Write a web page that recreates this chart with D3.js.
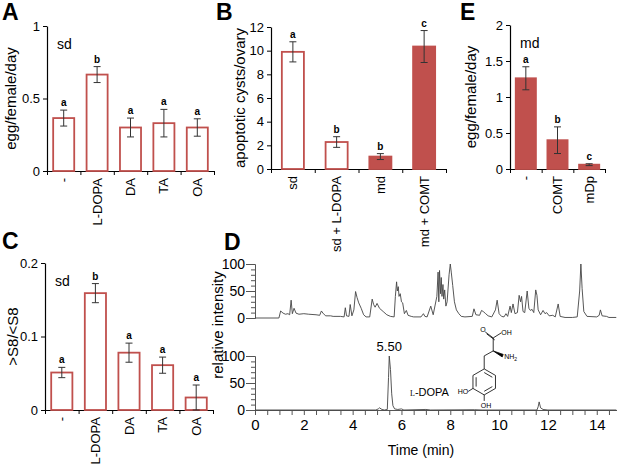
<!DOCTYPE html>
<html>
<head>
<meta charset="utf-8">
<script src="https://cdn.jsdelivr.net/npm/d3@7"></script>
<style>
  body { margin: 0; background: #fff; }
  svg { font-family: "Liberation Sans", Arial, sans-serif; }
</style>
</head>
<body>
<svg id="fig" width="617" height="465"></svg>
<script>
// A: egg laying of sd flies fed with amines
const catsA = ["-", "L-DOPA", "DA", "TA", "OA"];
const meanA = [0.365, 0.665, 0.30, 0.33, 0.30];
const errA = [0.055, 0.055, 0.065, 0.095, 0.06];
const sigA = ["a", "b", "a", "a", "a"];

// B: apoptotic cysts per ovary
const catsB = ["sd", "sd + L-DOPA", "md", "md + COMT"];
const dietB = ["sd", "sd", "md", "md"];
const meanB = [9.9, 2.28, 1.05, 10.35];
const errB = [0.85, 0.45, 0.25, 1.35];
const sigB = ["a", "b", "b", "c"];

// C: >S8/<S8 ratio, sd flies
const catsC = ["-", "L-DOPA", "DA", "TA", "OA"];
const meanC = [0.051, 0.159, 0.078, 0.061, 0.017];
const errC = [0.007, 0.013, 0.013, 0.011, 0.017];
const sigC = ["a", "b", "a", "a", "a"];

// E: egg laying of md flies
const catsE = ["-", "COMT", "mDp"];
const meanE = [1.26, 0.40, 0.06];
const errE = [0.16, 0.185, 0.013];
const sigE = ["a", "b", "c"];

// D: chromatograms, [time (min), relative intensity]
const traceTop = [
  [0, 0], [0.98, 0], [1.05, 13], [1.15, 9], [1.25, 7], [1.35, 8], [1.42, 6], [1.48, 33],
  [1.53, 8], [1.6, 18], [1.68, 9], [1.8, 7], [2.0, 8], [2.2, 7], [2.5, 6], [2.65, 5],
  [2.72, 13], [2.8, 8], [2.9, 4], [3.1, 4], [3.2, 3], [3.5, 3], [3.65, 2], [3.7, 19],
  [3.75, 4], [3.85, 3], [3.9, 25], [3.97, 4], [4.05, 15], [4.12, 49], [4.18, 38], [4.25, 28],
  [4.35, 18], [4.45, 6], [4.55, 2], [4.7, 2], [4.8, 35], [4.86, 25], [4.92, 20], [5.0, 27],
  [5.1, 18], [5.25, 12], [5.4, 6], [5.55, 3], [5.7, 2], [5.75, 40], [5.8, 67], [5.83, 50],
  [5.87, 58], [5.9, 40], [5.95, 45], [6.0, 30], [6.05, 28], [6.12, 8], [6.2, 14], [6.27, 5],
  [6.4, 3], [6.5, 2], [6.8, 2], [6.9, 8], [6.96, 3], [7.05, 2], [7.2, 22], [7.3, 6],
  [7.45, 40], [7.5, 85], [7.53, 30], [7.56, 88], [7.6, 45], [7.63, 75], [7.66, 40], [7.7, 62],
  [7.73, 35], [7.77, 52], [7.82, 22], [7.87, 30], [7.95, 80], [8.0, 100], [8.04, 85], [8.1, 60],
  [8.17, 30], [8.25, 15], [8.35, 8], [8.45, 3], [8.6, 2], [8.9, 3], [8.97, 17], [9.05, 6],
  [9.2, 5], [9.28, 14], [9.35, 12], [9.45, 8], [9.55, 4], [9.7, 2], [9.85, 15], [9.92, 33],
  [10.0, 8], [10.1, 3], [10.2, 2], [10.28, 8], [10.35, 3], [10.45, 22], [10.5, 10], [10.57, 26],
  [10.65, 8], [10.75, 10], [10.82, 42], [10.88, 30], [10.92, 40], [10.98, 12], [11.05, 10], [11.15, 50],
  [11.22, 18], [11.28, 14], [11.35, 16], [11.42, 10], [11.5, 52], [11.55, 42], [11.6, 15], [11.7, 6],
  [11.8, 14], [11.88, 8], [11.95, 10], [12.05, 4], [12.2, 5], [12.3, 2], [12.42, 26], [12.5, 3],
  [12.7, 1], [13.0, 1], [13.2, 2], [13.3, 50], [13.35, 100], [13.4, 55], [13.47, 12], [13.6, 3],
  [14.0, 2], [14.1, 5], [14.15, 15], [14.22, 4], [14.4, 3], [14.5, 1], [14.8, 1]
];
const traceDopa = [
  [0, 0], [4.95, 0], [5.05, 2], [5.1, 4], [5.2, 1], [5.3, 0], [5.42, 1], [5.47, 60],
  [5.5, 100], [5.55, 75], [5.6, 30], [5.65, 8], [5.72, 2], [5.85, 1], [6.0, 2], [6.1, 0],
  [7.0, 1], [7.2, 0], [9.0, 0.5], [9.3, 0], [11.55, 0], [11.6, 6], [11.64, 15], [11.7, 4],
  [11.8, 1], [12.0, 0], [14.8, 0]
];
const peakTime = 5.50;

const red = "#c0504d";
const svg = d3.select("#fig");

function styleAxis(g, size, color) {
  g.attr("font-family", null).attr("font-size", null);
  g.selectAll("text").attr("font-size", size).attr("fill", "#000");
  g.selectAll("path, line").attr("stroke", color);
}

function barPanel(p) {
  const g = svg.append("g");
  const x = d3.scaleBand().domain(p.cats).range(p.xr);
  const xe = d3.scaleLinear().domain([0, p.cats.length]).range(p.xr);
  const y = d3.scaleLinear().domain(p.yd).range(p.yr);
  const bw = x.bandwidth() * p.frac;

  g.append("g").attr("transform", `translate(${p.xr[0]},0)`)
    .call(d3.axisLeft(y).tickValues(p.yt).tickFormat(p.fmt).tickSize(4).tickSizeOuter(0).tickPadding(3))
    .call(a => styleAxis(a, 13, "#000"))
    .call(a => a.select(".domain").attr("stroke-width", 1.2));

  g.append("g").attr("transform", `translate(0,${p.yr[0]})`)
    .call(d3.axisBottom(xe).tickValues(d3.range(p.cats.length + 1)).tickFormat("").tickSize(4).tickSizeOuter(0))
    .call(a => styleAxis(a, 13, "#000"))
    .call(a => a.select(".domain").attr("stroke-width", 1.2));

  g.selectAll("rect.bar").data(p.mean).join("rect")
    .attr("class", "bar")
    .attr("x", (d, i) => x(p.cats[i]) + (x.bandwidth() - bw) / 2 + 1)
    .attr("y", d => y(d))
    .attr("width", bw - 2)
    .attr("height", d => y(0) - y(d))
    .attr("fill", (d, i) => p.filled[i] ? red : "#fff")
    .attr("stroke", red)
    .attr("stroke-width", 1.8);

  const eb = g.selectAll("g.err").data(p.mean).join("g").attr("class", "err")
    .attr("stroke", "#333").attr("stroke-width", 1);
  eb.append("line")
    .attr("x1", (d, i) => x(p.cats[i]) + x.bandwidth() / 2)
    .attr("x2", (d, i) => x(p.cats[i]) + x.bandwidth() / 2)
    .attr("y1", (d, i) => y(d + p.err[i]))
    .attr("y2", (d, i) => y(Math.max(0, d - p.err[i])));
  [1, -1].forEach(s => {
    eb.append("line")
      .attr("x1", (d, i) => x(p.cats[i]) + x.bandwidth() / 2 - 3.5)
      .attr("x2", (d, i) => x(p.cats[i]) + x.bandwidth() / 2 + 3.5)
      .attr("y1", (d, i) => y(Math.max(0, d + s * p.err[i])))
      .attr("y2", (d, i) => y(Math.max(0, d + s * p.err[i])));
  });

  g.selectAll("text.sig").data(p.sig).join("text")
    .attr("class", "sig")
    .attr("x", (d, i) => x(p.cats[i]) + x.bandwidth() / 2)
    .attr("y", (d, i) => y(p.mean[i] + p.err[i]) - 4)
    .attr("text-anchor", "middle")
    .attr("font-size", 10).attr("font-weight", "bold")
    .text(d => d);

  g.selectAll("text.cat").data(p.cats).join("text")
    .attr("class", "cat")
    .attr("transform", d => `translate(${x(d) + x.bandwidth() / 2},${p.yr[0] + 7}) rotate(-90)`)
    .attr("dy", "0.35em")
    .attr("text-anchor", "end")
    .attr("font-size", 13)
    .text(d => d);

  g.append("text")
    .attr("transform", `translate(${p.titleX},${(p.yr[0] + p.yr[1]) / 2}) rotate(-90)`)
    .attr("text-anchor", "middle")
    .attr("font-size", 15)
    .text(p.title);

  if (p.note) {
    g.append("text").attr("x", p.xr[0] + 10).attr("y", y(p.noteY))
      .attr("font-size", 14).text(p.note);
  }
}

barPanel({
  cats: catsA, mean: meanA, err: errA, sig: sigA, filled: catsA.map(() => false),
  xr: [47, 214], yr: [171, 26], yd: [0, 1], yt: [0, 0.5, 1], fmt: d3.format("~g"),
  frac: 0.69, title: "egg/female/day", titleX: 16, note: "sd", noteY: 0.84
});
barPanel({
  cats: catsB, mean: meanB, err: errB, sig: sigB, filled: dietB.map(d => d === "md"),
  xr: [271, 446], yr: [169, 27], yd: [0, 12], yt: d3.range(0, 13, 2), fmt: d3.format("d"),
  frac: 0.55, title: "apoptotic cysts/ovary", titleX: 245
});
barPanel({
  cats: catsC, mean: meanC, err: errC, sig: sigC, filled: catsC.map(() => false),
  xr: [45, 213], yr: [410, 263], yd: [0, 0.2], yt: [0, 0.1, 0.2], fmt: d3.format("~g"),
  frac: 0.69, title: ">S8/<S8", titleX: 18, note: "sd", noteY: 0.169
});
barPanel({
  cats: catsE, mean: meanE, err: errE, sig: sigE, filled: catsE.map(() => true),
  xr: [510, 605], yr: [169, 25], yd: [0, 2], yt: [0, 0.5, 1, 1.5, 2], fmt: d3.format("~g"),
  frac: 0.7, title: "egg/female/day", titleX: 476, note: "md", noteY: 1.68
});

// D: chromatograms
const xD = d3.scaleLinear().domain([0, 14.85]).range([255, 617.5]);
const yTop = d3.scaleLinear().domain([0, 100]).range([318, 264]);
const yLow = d3.scaleLinear().domain([0, 100]).range([410, 356]);
const gD = svg.append("g");
const grey = "#555";

[yTop, yLow].forEach(y => {
  gD.append("g").attr("transform", "translate(255,0)")
    .call(d3.axisLeft(y).tickValues(d3.range(0, 101, 10)).tickFormat("").tickSize(4).tickSizeOuter(0))
    .call(a => styleAxis(a, 13, grey));
  gD.append("g").attr("transform", "translate(255,0)")
    .call(d3.axisLeft(y).tickValues([0, 50, 100]).tickSize(9).tickSizeOuter(0).tickPadding(1))
    .call(a => styleAxis(a, 14, grey));
});
gD.append("g").attr("transform", "translate(0,410)")
  .call(d3.axisBottom(xD).tickValues(d3.range(0, 14.6, 0.5))
    .tickFormat(d => d % 2 === 0 ? d : "").tickSize(5).tickSizeOuter(0).tickPadding(4))
  .call(a => styleAxis(a, 15, grey));

const lineTop = d3.line().x(d => xD(d[0])).y(d => yTop(d[1]));
const lineLow = d3.line().x(d => xD(d[0])).y(d => yLow(d[1]));
gD.append("path").attr("d", lineTop(traceTop)).attr("fill", "none")
  .attr("stroke", "#444").attr("stroke-width", 0.9);
gD.append("path").attr("d", lineLow(traceDopa)).attr("fill", "none")
  .attr("stroke", "#444").attr("stroke-width", 0.9);

gD.append("text").attr("x", xD(peakTime)).attr("y", yLow(100) - 5)
  .attr("text-anchor", "middle").attr("font-size", 13).text(peakTime.toFixed(2));

gD.append("text").attr("transform", "translate(223,325) rotate(-90)")
  .attr("text-anchor", "middle").attr("font-size", 15).text("relative intensity");
gD.append("text").attr("x", 421).attr("y", 455).attr("text-anchor", "middle")
  .attr("font-size", 14).text("Time (min)");

const dopaLbl = gD.append("text").attr("x", xD(6.35)).attr("y", yLow(26)).attr("font-size", 11);
dopaLbl.append("tspan").attr("font-size", 8).attr("font-family", "Liberation Serif, serif").text("L");
dopaLbl.append("tspan").text("-DOPA");

// L-DOPA structure, drawn around the ring centre
const mol = gD.append("g")
  .attr("transform", `translate(${xD(9.39)},${yLow(52)})`)
  .attr("stroke", "#000").attr("stroke-width", 0.8).attr("fill", "none");
const r = 13;
const ring = d3.range(6).map(k => [r * Math.cos((k * 60 - 90) * Math.PI / 180), r * Math.sin((k * 60 - 90) * Math.PI / 180)]);
mol.append("path").attr("d", "M" + ring.join("L") + "Z");
[[0, 1], [2, 3], [4, 5]].forEach(([a, b]) => {
  const s = 0.72;
  mol.append("line")
    .attr("x1", ring[a][0] * s).attr("y1", ring[a][1] * s)
    .attr("x2", ring[b][0] * s).attr("y2", ring[b][1] * s);
});
mol.append("path").attr("d", "M0,-13 L0,-26 L9,-31 L9,-44");
mol.append("path").attr("d", "M9,-44 L17,-49");
mol.append("path").attr("d", "M9,-44 L1,-50 M10.5,-42 L2.5,-48");
mol.append("path").attr("d", "M9,-31 L19,-27.5 L18,-25 Z").attr("fill", "#000");
mol.append("path").attr("d", "M-11.26,6.5 L-16,9.5");
mol.append("path").attr("d", "M0,13 L0,19");
const molTxt = gD.append("g").attr("transform", `translate(${xD(9.39)},${yLow(52)})`)
  .attr("font-size", 7);
molTxt.append("text").attr("x", -4).attr("y", -50).text("O");
molTxt.append("text").attr("x", 17).attr("y", -47).text("OH");
const nh = molTxt.append("text").attr("x", 20).attr("y", -23).text("NH");
nh.append("tspan").attr("font-size", 5).attr("dy", 2).text("2");
molTxt.append("text").attr("x", -16).attr("y", 12.5).attr("text-anchor", "end").text("HO");
molTxt.append("text").attr("x", -3.5).attr("y", 26).text("OH");

// panel letters
const letters = [["A", 2, 20], ["B", 216, 20], ["E", 460, 20], ["C", 2, 249], ["D", 224, 250]];
svg.selectAll("text.panel").data(letters).join("text")
  .attr("class", "panel")
  .attr("x", d => d[1]).attr("y", d => d[2])
  .attr("font-size", 23).attr("font-weight", "bold")
  .text(d => d[0]);
</script>
</body>
</html>
